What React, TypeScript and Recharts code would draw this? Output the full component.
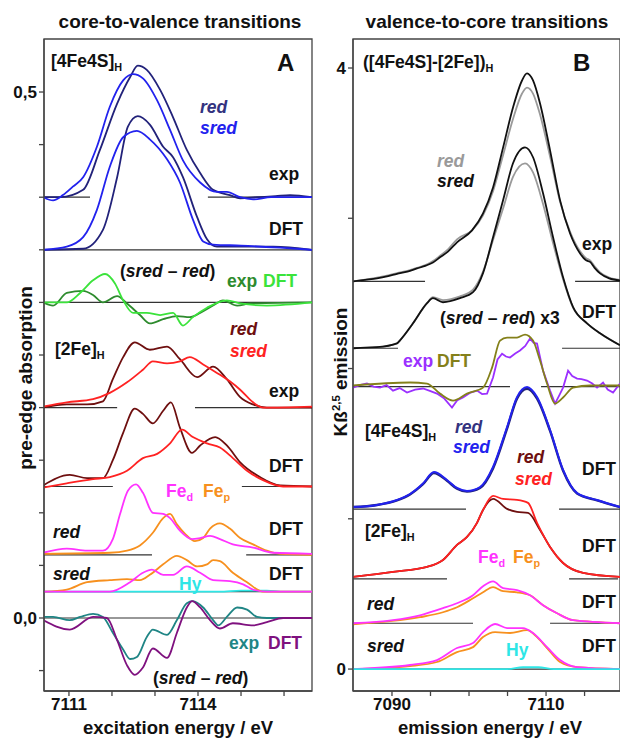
import React from "react";
import { LineChart, Line, XAxis, YAxis, ReferenceLine, ReferenceArea } from "recharts";

type Pt = [number, number];

// ---------- panel A : core-to-valence (pre-edge absorption) ----------
const aXTicks = [7111, 7112, 7113, 7114, 7115, 7116];
const aXLabels: Record<number, string> = { 7111: "7111", 7114: "7114" };
const aYTicks = [-0.05, 0, 0.05, 0.1, 0.15, 0.2, 0.25, 0.3, 0.35, 0.4, 0.45, 0.5];
const aYLabels: Record<number, string> = { 0: "0,0", 0.5: "0,5" };

// stacking offsets of the spectra
const aBase4Exp = 0.4;
const aBase4Dft = 0.35;
const aBaseDiffTop = 0.3;
const aBase2Exp = 0.2;
const aBase2Dft = 0.125;
const aBaseFeRed = 0.06;
const aBaseFeSred = 0.025;
const aBaseDiffBot = 0;

const a4ExpRed: Pt[] = [[7110.4,0],[7110.8,0],[7111.33,0.007],[7111.72,0.045],[7112.12,0.089],[7112.42,0.114],[7112.6,0.125],[7112.81,0.121],[7113.12,0.102],[7113.42,0.076],[7113.74,0.045],[7114.05,0.023],[7114.35,0.007],[7114.74,0.002],[7114.98,-0.001],[7115.37,0],[7115.8,0.001],[7116.14,0.002],[7116.65,0]];
const a4ExpSred: Pt[] = [[7110.4,0],[7110.63,-0.003],[7110.86,0.002],[7111.09,0.01],[7111.33,0.019],[7111.65,0.048],[7111.95,0.086],[7112.26,0.111],[7112.49,0.117],[7112.72,0.113],[7113.05,0.092],[7113.35,0.064],[7113.65,0.035],[7114.05,0.014],[7114.44,0.005],[7114.67,0.005],[7114.98,0],[7115.28,-0.002],[7115.7,0],[7116.65,0]];
const a4DftRed: Pt[] = [[7110.4,0],[7111.33,0.001],[7111.79,0.019],[7112.12,0.069],[7112.37,0.117],[7112.6,0.127],[7112.88,0.119],[7113.19,0.098],[7113.42,0.088],[7113.65,0.069],[7113.98,0.031],[7114.21,0.01],[7114.44,0.003],[7115.0,0.003],[7115.75,0.003],[7116.65,0]];
const a4DftSred: Pt[] = [[7110.4,0],[7110.95,0.003],[7111.33,0.012],[7111.65,0.038],[7111.95,0.079],[7112.26,0.107],[7112.58,0.113],[7112.88,0.105],[7113.28,0.086],[7113.58,0.064],[7113.88,0.029],[7114.12,0.008],[7114.35,0.005],[7115.0,0.004],[7115.9,0.002],[7116.65,0]];

const aDiffTopExp: Pt[] = [[7110.4,0],[7110.63,-0.003],[7110.95,0.009],[7111.33,0.011],[7111.56,0.007],[7111.79,0],[7112.12,0.006],[7112.35,-0.001],[7112.65,-0.012],[7112.88,-0.02],[7113.19,-0.016],[7113.51,-0.013],[7113.81,-0.014],[7114.05,-0.01],[7114.35,-0.003],[7114.58,0.002],[7114.91,-0.003],[7115.21,-0.001],[7116.65,0]];
const aDiffTopDft: Pt[] = [[7110.4,0],[7110.95,0],[7111.26,0.009],[7111.56,0.021],[7111.84,0.027],[7112.07,0.018],[7112.26,0.002],[7112.49,-0.01],[7112.81,-0.01],[7113.12,-0.012],[7113.42,-0.01],[7113.65,-0.022],[7113.88,-0.014],[7114.21,-0.005],[7114.67,0.002],[7114.98,-0.001],[7115.6,-0.003],[7116.65,0]];

const a2ExpRed: Pt[] = [[7110.4,0],[7110.95,0.003],[7111.42,0.003],[7111.79,0.006],[7112.02,0.027],[7112.26,0.048],[7112.53,0.062],[7112.88,0.055],[7113.28,0.058],[7113.58,0.046],[7113.98,0.029],[7114.35,0.039],[7114.67,0.027],[7114.98,0.01],[7115.28,0.003],[7115.6,0],[7116.65,0]];
const a2ExpSred: Pt[] = [[7110.4,0.001],[7110.95,0.005],[7111.56,0.008],[7111.95,0.014],[7112.35,0.024],[7112.72,0.036],[7112.95,0.044],[7113.28,0.042],[7113.58,0.044],[7113.81,0.048],[7114.12,0.041],[7114.44,0.033],[7114.74,0.025],[7114.98,0.017],[7115.28,0.005],[7115.51,0],[7116.65,0.001]];
const a2DftRed: Pt[] = [[7110.4,0.001],[7111.02,0.011],[7111.42,0.008],[7111.79,0.008],[7112.02,0.025],[7112.26,0.051],[7112.53,0.074],[7112.72,0.069],[7112.95,0.06],[7113.19,0.072],[7113.37,0.08],[7113.58,0.056],[7113.86,0.032],[7114.05,0.039],[7114.4,0.047],[7114.67,0.039],[7114.98,0.023],[7115.44,0.009],[7115.91,0.001],[7116.65,0]];
const a2DftSred: Pt[] = [[7110.4,-0.001],[7110.95,0.003],[7111.56,0.007],[7111.95,0.009],[7112.35,0.015],[7112.72,0.027],[7113.05,0.031],[7113.35,0.041],[7113.63,0.054],[7113.88,0.047],[7114.21,0.041],[7114.51,0.037],[7114.81,0.027],[7115.14,0.015],[7115.51,0.006],[7115.98,0],[7116.65,0]];

const aFeRedD: Pt[] = [[7110.4,0.002],[7110.95,0.006],[7111.42,0.004],[7111.79,0.004],[7112.02,0.015],[7112.19,0.039],[7112.37,0.061],[7112.56,0.067],[7112.72,0.059],[7112.95,0.04],[7113.19,0.039],[7113.35,0.035],[7113.58,0.023],[7113.86,0.015],[7114.05,0.016],[7114.28,0.018],[7114.51,0.015],[7114.81,0.01],[7115.28,0.007],[7115.74,0.002],[7116.65,0.001]];
const aFeRedP: Pt[] = [[7110.4,0.001],[7111.95,0.002],[7112.35,0.004],[7112.65,0.009],[7112.95,0.021],[7113.19,0.035],[7113.35,0.039],[7113.51,0.029],[7113.7,0.02],[7113.93,0.013],[7114.12,0.016],[7114.28,0.025],[7114.51,0.03],[7114.74,0.025],[7114.98,0.016],[7115.28,0.01],[7115.6,0.004],[7115.91,0.001],[7116.65,0]];
const aFeSredP: Pt[] = [[7110.4,0],[7110.95,0.002],[7111.42,0.009],[7111.95,0.011],[7112.35,0.012],[7112.65,0.011],[7112.88,0.016],[7113.19,0.026],[7113.51,0.034],[7113.74,0.03],[7113.98,0.024],[7114.21,0.026],[7114.35,0.03],[7114.51,0.029],[7114.81,0.018],[7115.14,0.009],[7115.51,0],[7116.65,0]];
const aFeSredD: Pt[] = [[7110.4,0],[7111.95,0],[7112.42,0.009],[7112.72,0.018],[7112.93,0.021],[7113.19,0.016],[7113.42,0.016],[7113.74,0.024],[7114.05,0.018],[7114.35,0.011],[7114.74,0.01],[7115.05,0.007],[7115.28,0.002],[7115.6,0],[7116.65,0]];
const aFeSredHy: Pt[] = [[7110.4,0],[7114.5,0],[7115.0,0.001],[7115.6,0.001],[7116.0,0],[7116.65,0]];

const aDiffBotExp: Pt[] = [[7110.4,0.001],[7110.63,0.001],[7111.02,-0.002],[7111.26,0.001],[7111.56,0.004],[7111.79,0.001],[7112.02,-0.014],[7112.26,-0.03],[7112.42,-0.039],[7112.58,-0.037],[7112.81,-0.018],[7112.95,-0.011],[7113.28,-0.016],[7113.51,-0.002],[7113.74,0.014],[7113.88,0.016],[7114.12,0.01],[7114.35,-0.002],[7114.47,-0.007],[7114.67,0.001],[7114.91,0.01],[7115.14,0.008],[7115.37,0.001],[7115.6,0],[7116.65,0]];
const aDiffBotDft: Pt[] = [[7110.4,-0.002],[7111.02,-0.011],[7111.56,0.001],[7111.88,0],[7112.12,-0.021],[7112.35,-0.045],[7112.53,-0.054],[7112.72,-0.047],[7112.95,-0.029],[7113.28,-0.038],[7113.51,-0.014],[7113.74,0.01],[7113.86,0.016],[7114.05,0.01],[7114.28,-0.002],[7114.51,-0.01],[7114.81,-0.005],[7115.28,-0.007],[7115.6,-0.004],[7115.98,0],[7116.65,0]];

// baseline segments [x from, x to, y]
const aSegs: [number, number, number][] = [
  [7110.42, 7111.49, aBase4Exp], [7114.23, 7116.65, aBase4Exp],
  [7110.42, 7116.65, aBase4Dft],
  [7110.42, 7116.65, aBaseDiffTop],
  [7110.42, 7112.12, aBase2Exp], [7113.93, 7116.65, aBase2Exp],
  [7110.42, 7112.02, aBase2Dft], [7115.02, 7116.65, aBase2Dft],
  [7110.42, 7112.93, aBaseFeRed], [7115.12, 7116.65, aBaseFeRed],
  [7110.42, 7116.65, aBaseFeSred],
  [7110.42, 7116.65, aBaseDiffBot],
];

// ---------- panel B : valence-to-core (Kbeta 2,5 emission) ----------
const bXTicks = [7090, 7095, 7100, 7105, 7110, 7115];
const bXLabels: Record<number, string> = { 7090: "7090", 7110: "7110" };
const bYTicks = [0, 1, 2, 3, 4];
const bYLabels: Record<number, string> = { 0: "0", 4: "4" };

const bBaseExp = 2.58;
const bBaseDft = 2.135;
const bBaseDiff = 1.88;
const bBase4 = 1.065;
const bBase2 = 0.6;
const bBaseFeRed = 0.305;
const bBaseFeSred = 0;

const bExpSred: Pt[] = [[7084.94,0],[7086.5,0.01],[7088.05,0.02],[7089.5,0.035],[7090.65,0.05],[7092,0.065],[7093.25,0.086],[7094.4,0.105],[7095.32,0.126],[7096.23,0.16],[7097.3,0.2],[7098.44,0.26],[7100.39,0.339],[7101.82,0.452],[7103.12,0.625],[7104.42,0.89],[7105.71,1.157],[7106.88,1.337],[7107.53,1.384],[7108.31,1.337],[7109.22,1.184],[7110.52,0.872],[7111.82,0.539],[7113.12,0.319],[7114.42,0.186],[7115.2,0.14],[7115.71,0.13],[7116.3,0.09],[7117.01,0.053],[7118.2,0.02],[7119.6,0.007]];
const bExpRed: Pt[] = [[7084.94,0],[7086.5,0.012],[7088.05,0.025],[7089.5,0.04],[7090.65,0.055],[7092,0.07],[7093.25,0.09],[7094.4,0.11],[7095.32,0.135],[7096.23,0.17],[7097.3,0.215],[7098.44,0.28],[7100.39,0.34],[7101.82,0.44],[7103.12,0.6],[7104.42,0.84],[7105.71,1.08],[7106.88,1.25],[7107.53,1.29],[7108.31,1.25],[7109.22,1.11],[7110.52,0.83],[7111.82,0.53],[7113.12,0.33],[7114.42,0.2],[7115.2,0.155],[7115.71,0.14],[7116.3,0.1],[7117.01,0.06],[7118.2,0.025],[7119.6,0.01]];
const bDftSred: Pt[] = [[7084.94,0],[7088.05,0.007],[7090.65,0.033],[7091.04,0.053],[7092.73,0.166],[7094.55,0.3],[7095.32,0.333],[7096.62,0.306],[7098.83,0.333],[7100.52,0.373],[7101.82,0.5],[7103.12,0.739],[7104.42,0.985],[7105.71,1.231],[7107.27,1.337],[7108.31,1.271],[7109.61,1.031],[7110.91,0.739],[7112.21,0.472],[7113.51,0.273],[7115.32,0.166],[7117.01,0.1],[7119.6,0.02]];
const bDftRed: Pt[] = [[7084.94,0],[7088.05,0.007],[7090.65,0.033],[7091.04,0.053],[7092.73,0.166],[7094.55,0.3],[7095.32,0.34],[7096.62,0.32],[7098.83,0.345],[7100.52,0.39],[7101.82,0.51],[7103.12,0.72],[7104.42,0.93],[7105.71,1.14],[7107.27,1.23],[7108.31,1.17],[7109.61,0.96],[7110.91,0.7],[7112.21,0.46],[7113.51,0.27],[7115.32,0.166],[7117.01,0.1],[7119.6,0.02]];

const bDiffDft: Pt[] = [[7084.94,0.007],[7092.34,0.027],[7094.55,0.02],[7096.23,-0.047],[7097.92,-0.093],[7099.74,-0.047],[7101.82,-0.007],[7102.99,0.126],[7104.03,0.306],[7104.94,0.326],[7106.23,0.326],[7107.27,0.346],[7108.31,0.306],[7109.22,0.173],[7110.13,0.02],[7111.17,-0.113],[7112.21,-0.073],[7113.51,-0.007],[7115.71,0.007],[7119.6,0.007]];
const bDiffExp: Pt[] = [[7084.94,-0.007],[7085.8,0.01],[7086.75,0.02],[7087.6,0.0],[7088.44,-0.007],[7089.3,0.01],[7090.13,-0.027],[7091.0,-0.01],[7091.95,-0.04],[7093.0,-0.02],[7094.03,-0.013],[7095.0,-0.03],[7095.84,-0.047],[7096.8,-0.08],[7097.79,-0.14],[7098.5,-0.09],[7099.22,-0.073],[7100.2,-0.04],[7101.04,-0.027],[7101.7,-0.05],[7102.34,-0.047],[7103.12,0.06],[7103.7,0.18],[7104.29,0.219],[7104.8,0.2],[7105.32,0.193],[7106.0,0.22],[7106.62,0.24],[7107.3,0.27],[7107.92,0.319],[7108.4,0.29],[7108.83,0.286],[7109.61,0.106],[7110.52,-0.027],[7111.17,-0.113],[7111.7,-0.06],[7112.21,-0.007],[7112.86,0.106],[7113.4,0.07],[7114.03,0.053],[7114.6,0.05],[7115.32,0.04],[7116.0,0.02],[7116.62,-0.007],[7117.4,0.027],[7118.0,-0.02],[7118.7,-0.04],[7119.6,0.02]];

const b4DftSred: Pt[] = [[7084.94,0.013],[7088.05,0.027],[7090.65,0.06],[7092.34,0.1],[7094.03,0.17],[7095.45,0.246],[7097.14,0.193],[7098.44,0.14],[7099.74,0.12],[7101.43,0.146],[7103.12,0.28],[7104.94,0.546],[7106.23,0.745],[7107.53,0.812],[7108.83,0.745],[7110.52,0.526],[7112.21,0.26],[7114.03,0.106],[7116.62,0.06],[7119.6,0.013]];
const b4DftRed: Pt[] = [[7084.94,0.013],[7088.05,0.027],[7090.65,0.058],[7092.34,0.097],[7094.03,0.165],[7095.45,0.24],[7097.14,0.188],[7098.44,0.135],[7099.74,0.116],[7101.43,0.14],[7103.12,0.27],[7104.94,0.535],[7106.23,0.735],[7107.53,0.8],[7108.83,0.735],[7110.52,0.52],[7112.21,0.255],[7114.03,0.104],[7116.62,0.058],[7119.6,0.013]];

const b2DftSred: Pt[] = [[7084.94,0.013],[7090.13,0.047],[7094.55,0.08],[7096.62,0.126],[7098.44,0.226],[7099.74,0.279],[7101.04,0.373],[7101.82,0.459],[7103.12,0.552],[7104.42,0.532],[7106.23,0.526],[7107.66,0.506],[7108.83,0.373],[7110.52,0.213],[7112.21,0.106],[7114.81,0.04],[7119.6,0.013]];
const b2DftRed: Pt[] = [[7084.94,0.013],[7090.13,0.047],[7094.55,0.08],[7096.62,0.126],[7098.44,0.226],[7099.74,0.279],[7101.04,0.373],[7101.82,0.459],[7103.12,0.532],[7104.94,0.466],[7106.23,0.446],[7107.66,0.439],[7109.22,0.326],[7110.52,0.213],[7112.21,0.106],[7114.81,0.04],[7119.6,0.013]];

const bFeRedD: Pt[] = [[7084.94,0],[7090.13,0.02],[7093.64,0.053],[7096.62,0.1],[7098.44,0.133],[7100.52,0.186],[7101.82,0.246],[7103.12,0.279],[7104.42,0.233],[7106.23,0.22],[7107.92,0.186],[7109.61,0.12],[7111.43,0.066],[7113.51,0.02],[7119.6,0]];
const bFeRedP: Pt[] = [[7084.94,-0.007],[7093.64,0.04],[7096.62,0.073],[7098.44,0.106],[7100.52,0.166],[7101.82,0.206],[7103.12,0.24],[7104.42,0.213],[7106.23,0.206],[7107.92,0.186],[7109.61,0.12],[7111.43,0.066],[7113.51,0.02],[7119.6,0]];
const bFeSredD: Pt[] = [[7084.94,0],[7092.34,0.027],[7095.84,0.06],[7098.44,0.14],[7100.52,0.173],[7101.82,0.246],[7103.38,0.3],[7104.94,0.273],[7107.01,0.273],[7108.31,0.24],[7110.13,0.146],[7111.82,0.06],[7114.03,0.013],[7119.6,0]];
const bFeSredP: Pt[] = [[7084.94,0],[7092.34,0.02],[7095.84,0.047],[7098.44,0.113],[7100.52,0.146],[7101.82,0.213],[7103.38,0.246],[7105.32,0.24],[7107.53,0.259],[7108.83,0.213],[7110.13,0.14],[7111.82,0.047],[7114.03,0.013],[7119.6,0]];
const bFeSredHy: Pt[] = [[7084.94,0],[7105,0],[7107,0.012],[7109,0.012],[7111,0],[7119.6,0]];

const bSegs: [number, number, number][] = [
  [7084.94, 7094.29, bBaseExp], [7113.77, 7119.6, bBaseExp],
  [7084.94, 7090.78, bBaseDft], [7112.08, 7119.6, bBaseDft],
  [7084.94, 7105.32, bBaseDiff], [7109.35, 7119.6, bBaseDiff],
  [7084.94, 7099.61, bBase4], [7111.69, 7119.6, bBase4],
  [7084.94, 7097.14, bBase2], [7112.99, 7119.35, bBase2],
  [7084.94, 7100.52, bBaseFeRed], [7110.52, 7119.6, bBaseFeRed],
  [7084.94, 7119.6, bBaseFeSred],
];

// ---------- styling ----------
const FONT = '"Liberation Sans", Arial, Helvetica, sans-serif';
const C = {
  navy: "#22227a", blue: "#2222ee", dkGreen: "#2e8b2e", ltGreen: "#3be33b",
  maroon: "#6e0f0f", red: "#ff2222", magenta: "#ff33ff", orange: "#f7901e",
  cyan: "#2ee6e6", teal: "#1f8585", purple: "#7f117f", gray: "#9a9a9a",
  black: "#111111", violet: "#9b30ff", olive: "#84801a",
};

type Series = { id: string; pts: Pt[]; base: number; color: string; w?: number; linear?: boolean };

const aSeries: Series[] = [
  { id: "a4er", pts: a4ExpRed, base: aBase4Exp, color: C.navy },
  { id: "a4es", pts: a4ExpSred, base: aBase4Exp, color: C.blue },
  { id: "a4dr", pts: a4DftRed, base: aBase4Dft, color: C.navy },
  { id: "a4ds", pts: a4DftSred, base: aBase4Dft, color: C.blue },
  { id: "adte", pts: aDiffTopExp, base: aBaseDiffTop, color: C.dkGreen },
  { id: "adtd", pts: aDiffTopDft, base: aBaseDiffTop, color: C.ltGreen },
  { id: "a2er", pts: a2ExpRed, base: aBase2Exp, color: C.maroon },
  { id: "a2es", pts: a2ExpSred, base: aBase2Exp, color: C.red },
  { id: "a2dr", pts: a2DftRed, base: aBase2Dft, color: C.maroon },
  { id: "a2ds", pts: a2DftSred, base: aBase2Dft, color: C.red },
  { id: "afrp", pts: aFeRedP, base: aBaseFeRed, color: C.orange },
  { id: "afrd", pts: aFeRedD, base: aBaseFeRed, color: C.magenta },
  { id: "afsh", pts: aFeSredHy, base: aBaseFeSred, color: C.cyan },
  { id: "afsp", pts: aFeSredP, base: aBaseFeSred, color: C.orange },
  { id: "afsd", pts: aFeSredD, base: aBaseFeSred, color: C.magenta },
  { id: "adbe", pts: aDiffBotExp, base: aBaseDiffBot, color: C.teal },
  { id: "adbd", pts: aDiffBotDft, base: aBaseDiffBot, color: C.purple },
];

const bSeries: Series[] = [
  { id: "ber", pts: bExpRed, base: bBaseExp, color: C.gray },
  { id: "bes", pts: bExpSred, base: bBaseExp, color: C.black },
  { id: "bdr", pts: bDftRed, base: bBaseDft, color: C.gray },
  { id: "bds", pts: bDftSred, base: bBaseDft, color: C.black },
  { id: "bxe", pts: bDiffExp, base: bBaseDiff, color: C.violet, linear: true },
  { id: "bxd", pts: bDiffDft, base: bBaseDiff, color: C.olive },
  { id: "b4r", pts: b4DftRed, base: bBase4, color: C.navy, w: 2.4 },
  { id: "b4s", pts: b4DftSred, base: bBase4, color: C.blue, w: 2 },
  { id: "b2r", pts: b2DftRed, base: bBase2, color: C.maroon },
  { id: "b2s", pts: b2DftSred, base: bBase2, color: C.red },
  { id: "bfrp", pts: bFeRedP, base: bBaseFeRed, color: C.orange },
  { id: "bfrd", pts: bFeRedD, base: bBaseFeRed, color: C.magenta },
  { id: "bfsp", pts: bFeSredP, base: bBaseFeSred, color: C.orange },
  { id: "bfsd", pts: bFeSredD, base: bBaseFeSred, color: C.magenta },
  { id: "bfsh", pts: bFeSredHy, base: bBaseFeSred, color: C.cyan },
];

const toRows = (pts: Pt[], base: number) => pts.map(([x, y]) => ({ x, y: y + base }));

const tickStyle = { fill: "#111", fontSize: 17, fontWeight: 700, fontFamily: FONT };

function Panel(props: {
  left: number; width: number; yAxisW: number; right: number;
  xDom: [number, number]; yDom: [number, number];
  xTicks: number[]; xLabels: Record<number, string>;
  yTicks: number[]; yLabels: Record<number, string>;
  series: Series[]; segs: [number, number, number][];
}) {
  const { xDom, yDom } = props;
  return (
    <div style={{ position: "absolute", left: props.left, top: 0 }}>
      <LineChart width={props.width} height={741} margin={{ top: 39, right: props.right, bottom: 0, left: 0 }}>
        <XAxis
          type="number" dataKey="x" domain={xDom} allowDataOverflow ticks={props.xTicks}
          tickFormatter={(v: number) => props.xLabels[v] ?? ""} tick={tickStyle}
          tickSize={5} height={50} stroke="#444" strokeWidth={1.3} interval={0}
        />
        <YAxis
          type="number" domain={yDom} allowDataOverflow ticks={props.yTicks}
          tickFormatter={(v: number) => props.yLabels[v] ?? ""} tick={tickStyle}
          tickSize={5} width={props.yAxisW} stroke="#444" strokeWidth={1.3} interval={0}
        />
        <ReferenceArea x1={xDom[0]} x2={xDom[1]} y1={yDom[0]} y2={yDom[1]} fill="none" stroke="#444" strokeWidth={1.3} ifOverflow="visible" />
        {props.segs.map(([x1, x2, y], i) => (
          <ReferenceLine key={i} segment={[{ x: x1, y }, { x: x2, y }]} stroke="#333" strokeWidth={1.2} ifOverflow="visible" />
        ))}
        {props.series.map((s) => (
          <Line
            key={s.id} data={toRows(s.pts, s.base)} dataKey="y" type={s.linear ? "linear" : "monotone"}
            stroke={s.color} strokeWidth={s.w ?? 1.8} dot={false} isAnimationActive={false}
          />
        ))}
      </LineChart>
    </div>
  );
}

function Note(p: { x: number; y: number; c?: string; i?: boolean; s?: number; mid?: boolean; children: React.ReactNode }) {
  return (
    <div style={{
      position: "absolute", left: p.x, top: p.y, transform: p.mid ? "translate(-50%,-50%)" : "translateY(-50%)",
      color: p.c ?? "#111", fontStyle: p.i ? "italic" : "normal", fontWeight: 700,
      fontSize: p.s ?? 17.5, fontFamily: FONT, whiteSpace: "nowrap", lineHeight: 1,
    }}>{p.children}</div>
  );
}

const Sub = ({ t }: { t: string }) => (
  <span style={{ fontSize: "0.62em", position: "relative", top: "0.35em" }}>{t}</span>
);

const rotStyle = (x: number, y: number): React.CSSProperties => ({
  position: "absolute", left: x, top: y, transform: "translate(-50%,-50%) rotate(-90deg)",
  fontFamily: FONT, fontWeight: 700, fontSize: 19, whiteSpace: "nowrap", color: "#111", lineHeight: 1,
});

export default function App() {
  return (
    <div style={{ position: "absolute", left: 0, top: 0, width: 620, height: 741, background: "#fff", overflow: "hidden" }}>
      <Panel left={0} width={320} yAxisW={44} right={8} xDom={[7110.42, 7116.65]} yDom={[-0.0694, 0.5504]}
        xTicks={aXTicks} xLabels={aXLabels} yTicks={aYTicks} yLabels={aYLabels} series={aSeries} segs={aSegs} />
      <Panel left={310} width={310} yAxisW={43} right={0} xDom={[7084.94, 7119.6]} yDom={[-0.146, 4.193]}
        xTicks={bXTicks} xLabels={bXLabels} yTicks={bYTicks} yLabels={bYLabels} series={bSeries} segs={bSegs} />

      {/* titles */}
      <Note x={180} y={21} s={19} mid>core-to-valence transitions</Note>
      <Note x={487} y={21} s={19} mid>valence-to-core transitions</Note>
      <Note x={178} y={728} s={18.5} mid>excitation energy / eV</Note>
      <Note x={490} y={728} s={18.5} mid>emission energy / eV</Note>
      <div style={rotStyle(25, 378)}>pre-edge absorption</div>
      <div style={rotStyle(340, 372)}>
        Kß<span style={{ fontSize: "0.6em", position: "relative", top: "-0.6em" }}>2,5</span> emission
      </div>

      {/* panel A notes */}
      <Note x={51} y={62}>[4Fe4S]<Sub t="H" /></Note>
      <Note x={277} y={63} s={24}>A</Note>
      <Note x={200} y={108} c="#33337f" i>red</Note>
      <Note x={200} y={129} c={C.blue} i>sred</Note>
      <Note x={269} y={175}>exp</Note>
      <Note x={269} y={230}>DFT</Note>
      <Note x={120} y={272}>(<i>sred</i> – <i>red</i>)</Note>
      <Note x={227} y={282} c={C.dkGreen}>exp</Note>
      <Note x={263} y={282} c={C.ltGreen}>DFT</Note>
      <Note x={230} y={330} c={C.maroon} i>red</Note>
      <Note x={230} y={352} c={C.red} i>sred</Note>
      <Note x={55} y={350}>[2Fe]<Sub t="H" /></Note>
      <Note x={269} y={392}>exp</Note>
      <Note x={269} y={467}>DFT</Note>
      <Note x={166} y={492} c={C.magenta}>Fe<Sub t="d" /></Note>
      <Note x={203} y={492} c={C.orange}>Fe<Sub t="p" /></Note>
      <Note x={53} y={533} i>red</Note>
      <Note x={269} y={530}>DFT</Note>
      <Note x={53} y={575} i>sred</Note>
      <Note x={269} y={575}>DFT</Note>
      <Note x={179} y={585} c={C.cyan}>Hy</Note>
      <Note x={229} y={644} c={C.teal}>exp</Note>
      <Note x={268} y={644} c={C.purple}>DFT</Note>
      <Note x={153} y={679}>(<i>sred</i> – <i>red</i>)</Note>

      {/* panel B notes */}
      <Note x={363} y={63}>([4Fe4S]-[2Fe])<Sub t="H" /></Note>
      <Note x={573} y={63} s={24}>B</Note>
      <Note x={437} y={162} c={C.gray} i>red</Note>
      <Note x={437} y={182} i>sred</Note>
      <Note x={582} y={245}>exp</Note>
      <Note x={582} y={313}>DFT</Note>
      <Note x={440} y={319}>(<i>sred</i> – <i>red</i>) x3</Note>
      <Note x={403} y={362} c={C.violet}>exp</Note>
      <Note x={437} y={362} c={C.olive}>DFT</Note>
      <Note x={365} y={432}>[4Fe4S]<Sub t="H" /></Note>
      <Note x={455} y={428} c="#33337f" i>red</Note>
      <Note x={453} y={448} c={C.blue} i>sred</Note>
      <Note x={517} y={458} c={C.maroon} i>red</Note>
      <Note x={515} y={480} c={C.red} i>sred</Note>
      <Note x={582} y={470}>DFT</Note>
      <Note x={365} y={532}>[2Fe]<Sub t="H" /></Note>
      <Note x={582} y={547}>DFT</Note>
      <Note x={478} y={558} c={C.magenta}>Fe<Sub t="d" /></Note>
      <Note x={513} y={558} c={C.orange}>Fe<Sub t="p" /></Note>
      <Note x={367} y={605} i>red</Note>
      <Note x={582} y={603}>DFT</Note>
      <Note x={367} y={647} i>sred</Note>
      <Note x={582} y={647}>DFT</Note>
      <Note x={506} y={651} c={C.cyan}>Hy</Note>
    </div>
  );
}
